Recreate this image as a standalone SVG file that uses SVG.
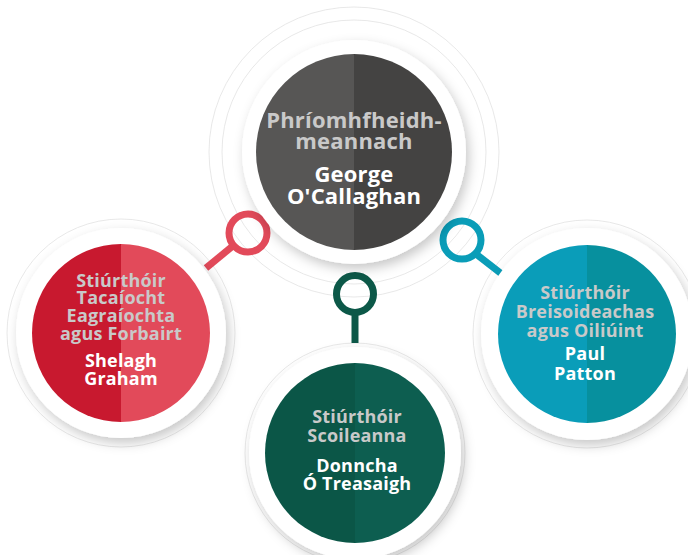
<svg xmlns="http://www.w3.org/2000/svg" width="688" height="555" viewBox="0 0 688 555">
<defs>
<filter id="sh" x="-30%" y="-30%" width="160%" height="160%">
<feDropShadow dx="3" dy="5" stdDeviation="6" flood-color="#000" flood-opacity="0.22"/>
</filter>
<clipPath id="cTop"><circle cx="354" cy="152" r="98"/></clipPath>
<clipPath id="cRed"><circle cx="121" cy="333" r="89"/></clipPath>
<clipPath id="cGreen"><circle cx="355" cy="453" r="90"/></clipPath>
<clipPath id="cBlue"><circle cx="587" cy="334" r="89"/></clipPath>
</defs>
<style>
.faint{fill:none;stroke:#e2e2e2;stroke-width:0.8}
.disk{fill:#fff;filter:url(#sh)}
.lbl{font-family:"Open Sans",Lato,sans-serif;font-weight:700;fill:#c9c9c9;text-anchor:middle;letter-spacing:0.2px}
.nm{font-family:"Open Sans",Lato,sans-serif;font-weight:700;fill:#fff;text-anchor:middle;letter-spacing:0.2px}
.ring{fill:none;stroke-width:7}
.stem{stroke-width:7;stroke-linecap:butt}
</style>
<rect width="688" height="555" fill="#fff"/>

<g id="faint-circles">
<circle class="faint" cx="354" cy="152" r="145"/>
<circle class="faint" cx="354" cy="152" r="132"/>
<circle class="faint" cx="121" cy="333" r="114"/>
<circle class="faint" cx="355" cy="453" r="110"/>
<circle class="faint" cx="587" cy="334" r="114"/>
</g>

<g id="connectors">
<line class="stem" x1="206" y1="268" x2="234" y2="245" stroke="#e24a5a"/>
<circle class="ring" cx="248" cy="233" r="19" stroke="#e24a5a"/>
<line class="stem" x1="355" y1="312" x2="355" y2="343" stroke="#0c5848"/>
<circle class="ring" cx="355" cy="294" r="18.5" stroke="#0c5848"/>
<line class="stem" x1="476" y1="254" x2="503" y2="275" stroke="#0a9db8"/>
<circle class="ring" cx="462" cy="240" r="19" stroke="#0a9db8"/>
</g>

<g id="node-ceo">
<circle class="disk" cx="354" cy="152" r="112"/>
<g clip-path="url(#cTop)">
<rect x="250" y="50" width="104" height="210" fill="#575655"/>
<rect x="354" y="50" width="104" height="210" fill="#444342"/>
</g>
<text class="lbl" x="354" y="128" font-size="22">Phríomhfheidh-</text>
<text class="lbl" x="354" y="149" font-size="22">meannach</text>
<text class="nm" x="354" y="182" font-size="22">George</text>
<text class="nm" x="354" y="204" font-size="22">O'Callaghan</text>
</g>

<g id="node-red">
<circle class="disk" cx="121" cy="333" r="105"/>
<g clip-path="url(#cRed)">
<rect x="30" y="240" width="91" height="190" fill="#c8192f"/>
<rect x="121" y="240" width="92" height="190" fill="#e24a5a"/>
</g>
<text class="lbl" x="121" y="287" font-size="18">Stiúrthóir</text>
<text class="lbl" x="121" y="304" font-size="18">Tacaíocht</text>
<text class="lbl" x="121" y="322" font-size="18">Eagraíochta</text>
<text class="lbl" x="121" y="340" font-size="18">agus Forbairt</text>
<text class="nm" x="121" y="367" font-size="18">Shelagh</text>
<text class="nm" x="121" y="385" font-size="18">Graham</text>
</g>

<g id="node-green">
<circle class="disk" cx="355" cy="453" r="106"/>
<g clip-path="url(#cGreen)">
<rect x="262" y="360" width="93" height="190" fill="#0b5647"/>
<rect x="355" y="360" width="93" height="190" fill="#0d5e50"/>
</g>
<text class="lbl" x="357" y="423" font-size="18">Stiúrthóir</text>
<text class="lbl" x="357" y="442" font-size="18">Scoileanna</text>
<text class="nm" x="357" y="472" font-size="18">Donncha</text>
<text class="nm" x="357" y="490" font-size="18">Ó Treasaigh</text>
</g>

<g id="node-blue">
<circle class="disk" cx="587" cy="334" r="106"/>
<g clip-path="url(#cBlue)">
<rect x="496" y="243" width="91" height="182" fill="#0a9db9"/>
<rect x="587" y="243" width="92" height="182" fill="#07909e"/>
</g>
<text class="lbl" x="585" y="299" font-size="18">Stiúrthóir</text>
<text class="lbl" x="585" y="318" font-size="18">Breisoideachas</text>
<text class="lbl" x="585" y="337" font-size="18">agus Oiliúint</text>
<text class="nm" x="585" y="360" font-size="18">Paul</text>
<text class="nm" x="585" y="380" font-size="18">Patton</text>
</g>
</svg>
